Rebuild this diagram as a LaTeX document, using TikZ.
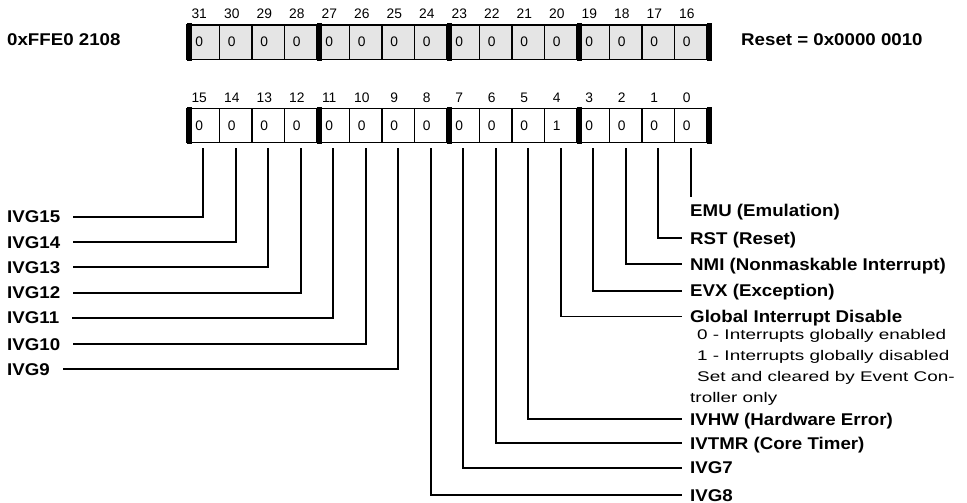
\documentclass[tikz,border=0pt]{standalone}
\usepackage{fontspec}
\setmainfont{Liberation Sans}
\newfontfamily\fbold[FakeStretch=1.1]{Liberation Sans}
\newfontfamily\fdesc[FakeStretch=1.35]{Liberation Sans}
\newfontfamily\fsmall{Liberation Sans}
\usetikzlibrary{calc}
\begin{document}
\begin{tikzpicture}[x=1pt,y=-1pt,
  cellbox/.style={draw, line width=1.2pt, minimum width=32.5pt, minimum height=34.5pt, inner sep=0pt, outer sep=0pt},
  bitnum/.style={font=\fsmall\fontsize{13.8}{16}\selectfont, inner sep=0pt},
  bitval/.style={font=\fsmall\fontsize{13.8}{16}\selectfont, inner sep=0pt},
  lab/.style={font=\fbold\bfseries\fontsize{17}{20}\selectfont, inner sep=0pt, text height=12pt, text depth=0pt, anchor=west},
  desc/.style={font=\fdesc\fontsize{14}{17}\selectfont, inner sep=0pt, text height=10pt, text depth=0pt, anchor=west},
  conn/.style={line width=1.8pt},
  thickbar/.style={fill=black}]
\useasboundingbox (0,0) rectangle (967,503);
% top register (bits 31..16)
\foreach \i in {0,...,15}{
  \pgfmathtruncatemacro{\b}{31-\i}
  \node[cellbox, fill=black!10] (t\b) at ({187+(\i+0.5)*32.5}, 42.2) {};
  \node[bitval] (tv\b) at ([xshift=-4pt]t\b.center) {0};
  \node[bitnum] (tn\b) at ([xshift=-4pt]t\b.center |- 0,14) {\b};
}
% bottom register (bits 15..0)
\foreach \i in {0,...,15}{
  \pgfmathtruncatemacro{\b}{15-\i}
  \node[cellbox] (b\b) at ({187+(\i+0.5)*32.5}, 125.5) {};
  \node[bitnum] (bn\b) at ([xshift=-4pt]b\b.center |- 0,98) {\b};
  \coordinate (s\b) at ($(b\b.south)+(0,5.5)$);
}
\foreach \b in {15,14,13,12,11,10,9,8,7,6,5,3,2,1,0}{
  \node[bitval] (bv\b) at ([xshift=-4pt]b\b.center) {0};
}
\node[bitval] (bv4) at ([xshift=-4pt]b4.center) {1};
% thick nibble bars
\foreach \k in {0,...,4}{
  \fill[thickbar] ({186.5+\k*130}, 23.5) rectangle ++(5, 37.5);
  \fill[thickbar] ({186.5+\k*130}, 107.3) rectangle ++(5, 36.5);
}
% header texts
\node[lab] (addr) at (7,40) {0xFFE0 2108};
\node[lab] (reset) at (741,40) {Reset = 0x0000 0010};
% left labels
\node[lab] (l15) at (7,216.7) {IVG15};
\node[lab] (l14) at (7,242.3) {IVG14};
\node[lab] (l13) at (7,267.3) {IVG13};
\node[lab] (l12) at (7,292.7) {IVG12};
\node[lab] (l11) at (7,317.7) {IVG11};
\node[lab] (l10) at (7,344.3) {IVG10};
\node[lab] (l9)  at (7,369)   {IVG9};
\foreach \b in {15,14,13,12,11,10,9}{
  \draw[conn, shorten <=13pt] (l\b.east) -| (s\b);
}
% right labels
\node[lab] (r0) at (690,210.5) {EMU (Emulation)};
\node[lab] (r1) at (690,238.3) {RST (Reset)};
\node[lab] (r2) at (690,264)   {NMI (Nonmaskable Interrupt)};
\node[lab] (r3) at (690,290.7) {EVX (Exception)};
\node[lab] (r4) at (690,316.5) {Global Interrupt Disable};
\node[desc] (d1) at (697,334) {0 - Interrupts globally enabled};
\node[desc] (d2) at (697,355) {1 - Interrupts globally disabled};
\node[desc] (d3) at (697,376) {Set and cleared by Event Con-};
\node[desc] (d4) at (690,397) {troller only};
\node[lab] (r5) at (690,419.3) {IVHW (Hardware Error)};
\node[lab] (r6) at (690,443)   {IVTMR (Core Timer)};
\node[lab] (r7) at (690,467.7) {IVG7};
\node[lab] (r8) at (690,495)   {IVG8};
\draw[conn, shorten >=7pt] (s0) -- (s0 |- r0.north);
\foreach \b in {1,2,3,4,5,6,7,8}{
  \draw[conn, shorten >=8pt] (s\b) |- (r\b.west);
}
\end{tikzpicture}
\end{document}
